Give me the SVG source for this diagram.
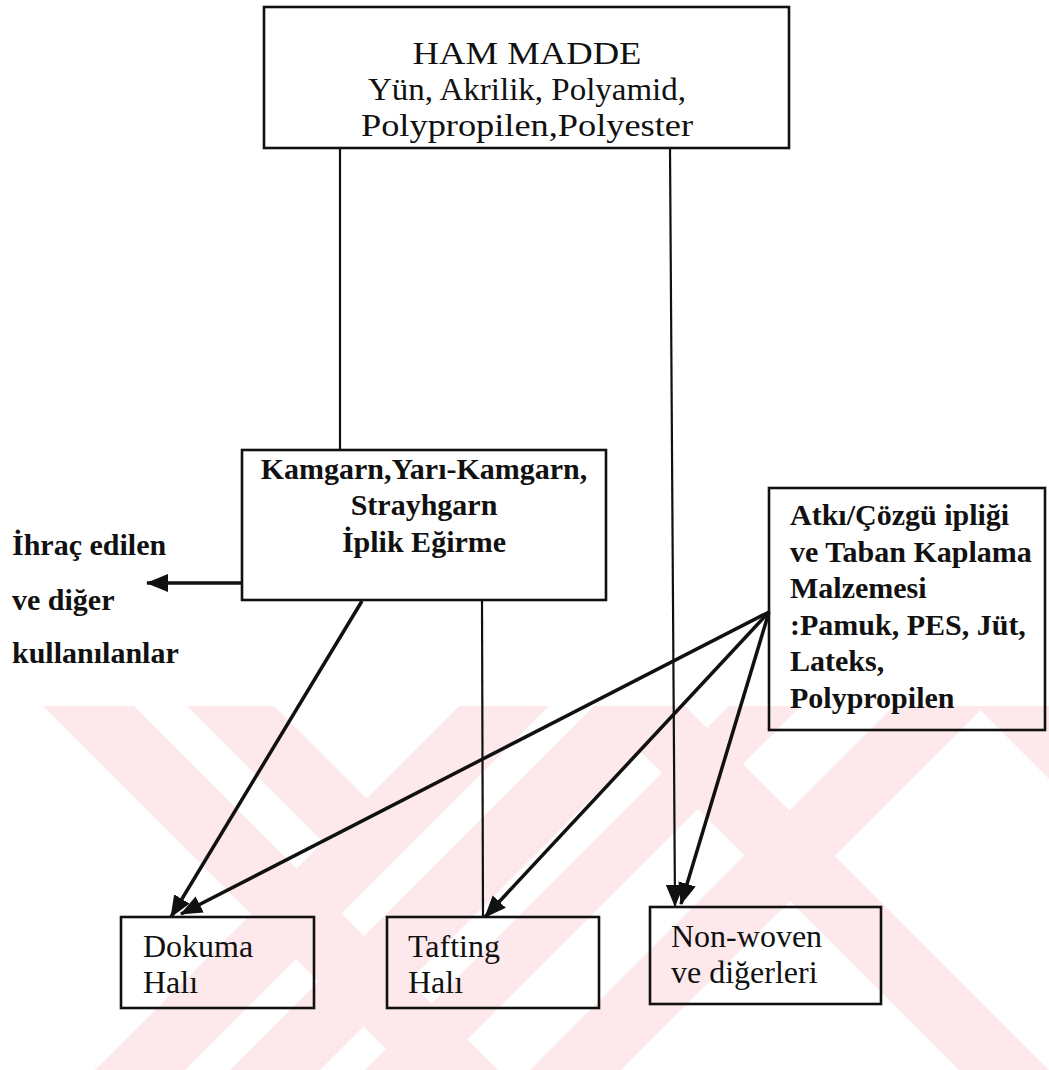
<svg xmlns="http://www.w3.org/2000/svg" width="1049" height="1070" viewBox="0 0 1049 1070">
<defs>
<style>
.box{fill:none;stroke:#111;stroke-width:2.6}
.reg{font-family:"Liberation Serif","Times New Roman",serif;font-size:32px;fill:#111}
.bld{font-family:"Liberation Serif","Times New Roman",serif;font-size:30px;font-weight:bold;fill:#111}
.thin{stroke:#111;stroke-width:2.2;fill:none}
.thick{stroke:#111;stroke-width:3.5;fill:none}
.wm{fill:#fde8ec}
</style>
<marker id="ah" markerUnits="userSpaceOnUse" markerWidth="24" markerHeight="20" refX="21" refY="9" orient="auto">
<path d="M0,0 L22,9 L0,18 Z" fill="#111"/>
</marker>
<clipPath id="wmclip"><rect x="0" y="706" width="1049" height="364"/></clipPath>
</defs>
<rect width="1049" height="1070" fill="#fff"/>
<g id="watermark" clip-path="url(#wmclip)">
<polygon class="wm" points="43,706 134,706 498,1070 407,1070"/>
<polygon class="wm" points="187,706 274,706 366.5,798.5 323,842"/>
<polygon class="wm" points="459,706 549,706 185,1070 95,1070"/>
<polygon class="wm" points="594,706 684,706 320,1070 230,1070"/>
<polygon class="wm" points="729,706 801,706 437,1070 365,1070"/>
<polygon class="wm" points="894,706 985,706 621,1070 530,1070"/>
<polygon class="wm" points="595,706 685,706 1049,1070 959,1070"/>
<polygon class="wm" points="976,706 1066,706 1066,796"/>
</g>
<g id="connectors">
<line class="thin" x1="340" y1="148" x2="340" y2="450"/>
<line class="thin" x1="670" y1="148" x2="675" y2="906" marker-end="url(#ah)"/>
<line class="thick" x1="362" y1="601" x2="171" y2="917" marker-end="url(#ah)"/>
<line class="thin" x1="482" y1="601" x2="483" y2="917"/>
<line class="thick" x1="242" y1="583" x2="147" y2="583" marker-end="url(#ah)"/>
<line class="thick" x1="769" y1="612" x2="181" y2="914" marker-end="url(#ah)"/>
<line class="thick" x1="769" y1="612" x2="485" y2="917" marker-end="url(#ah)"/>
<line class="thick" x1="769" y1="612" x2="681" y2="904" marker-end="url(#ah)"/>
</g>
<g id="ham-madde">
<rect class="box" x="264" y="7" width="525" height="141" fill="#fff"/>
<text class="reg" x="527" y="64" text-anchor="middle" textLength="229" lengthAdjust="spacingAndGlyphs">HAM MADDE</text>
<text class="reg" x="527" y="100" text-anchor="middle" textLength="318" lengthAdjust="spacingAndGlyphs">Yün, Akrilik, Polyamid,</text>
<text class="reg" x="527" y="136" text-anchor="middle" textLength="332" lengthAdjust="spacingAndGlyphs">Polypropilen,Polyester</text>
</g>
<g id="kamgarn">
<rect class="box" x="242" y="450" width="364" height="150" fill="#fff"/>
<text class="bld" x="424" y="479" text-anchor="middle">Kamgarn,Yarı-Kamgarn,</text>
<text class="bld" x="424" y="515" text-anchor="middle">Strayhgarn</text>
<text class="bld" x="424" y="552" text-anchor="middle">İplik Eğirme</text>
</g>
<g id="ihrac">
<text class="bld" x="12" y="555">İhraç edilen</text>
<text class="bld" x="12" y="610">ve diğer</text>
<text class="bld" x="12" y="663">kullanılanlar</text>
</g>
<g id="atki">
<rect class="box" x="769" y="488" width="276" height="242"/>
<text class="bld" x="790" y="525">Atkı/Çözgü ipliği</text>
<text class="bld" x="790" y="562">ve Taban Kaplama</text>
<text class="bld" x="790" y="598">Malzemesi</text>
<text class="bld" x="790" y="635">:Pamuk, PES, Jüt,</text>
<text class="bld" x="790" y="671">Lateks,</text>
<text class="bld" x="790" y="708">Polypropilen</text>
</g>
<g id="dokuma">
<rect class="box" x="121" y="917" width="193" height="91"/>
<text class="reg" x="143" y="957">Dokuma</text>
<text class="reg" x="143" y="993">Halı</text>
</g>
<g id="tafting">
<rect class="box" x="387" y="917" width="212" height="91"/>
<text class="reg" x="408" y="957">Tafting</text>
<text class="reg" x="408" y="993">Halı</text>
</g>
<g id="nonwoven">
<rect class="box" x="650" y="907" width="231" height="97"/>
<text class="reg" x="671" y="947">Non-woven</text>
<text class="reg" x="671" y="983">ve diğerleri</text>
</g>
</svg>
